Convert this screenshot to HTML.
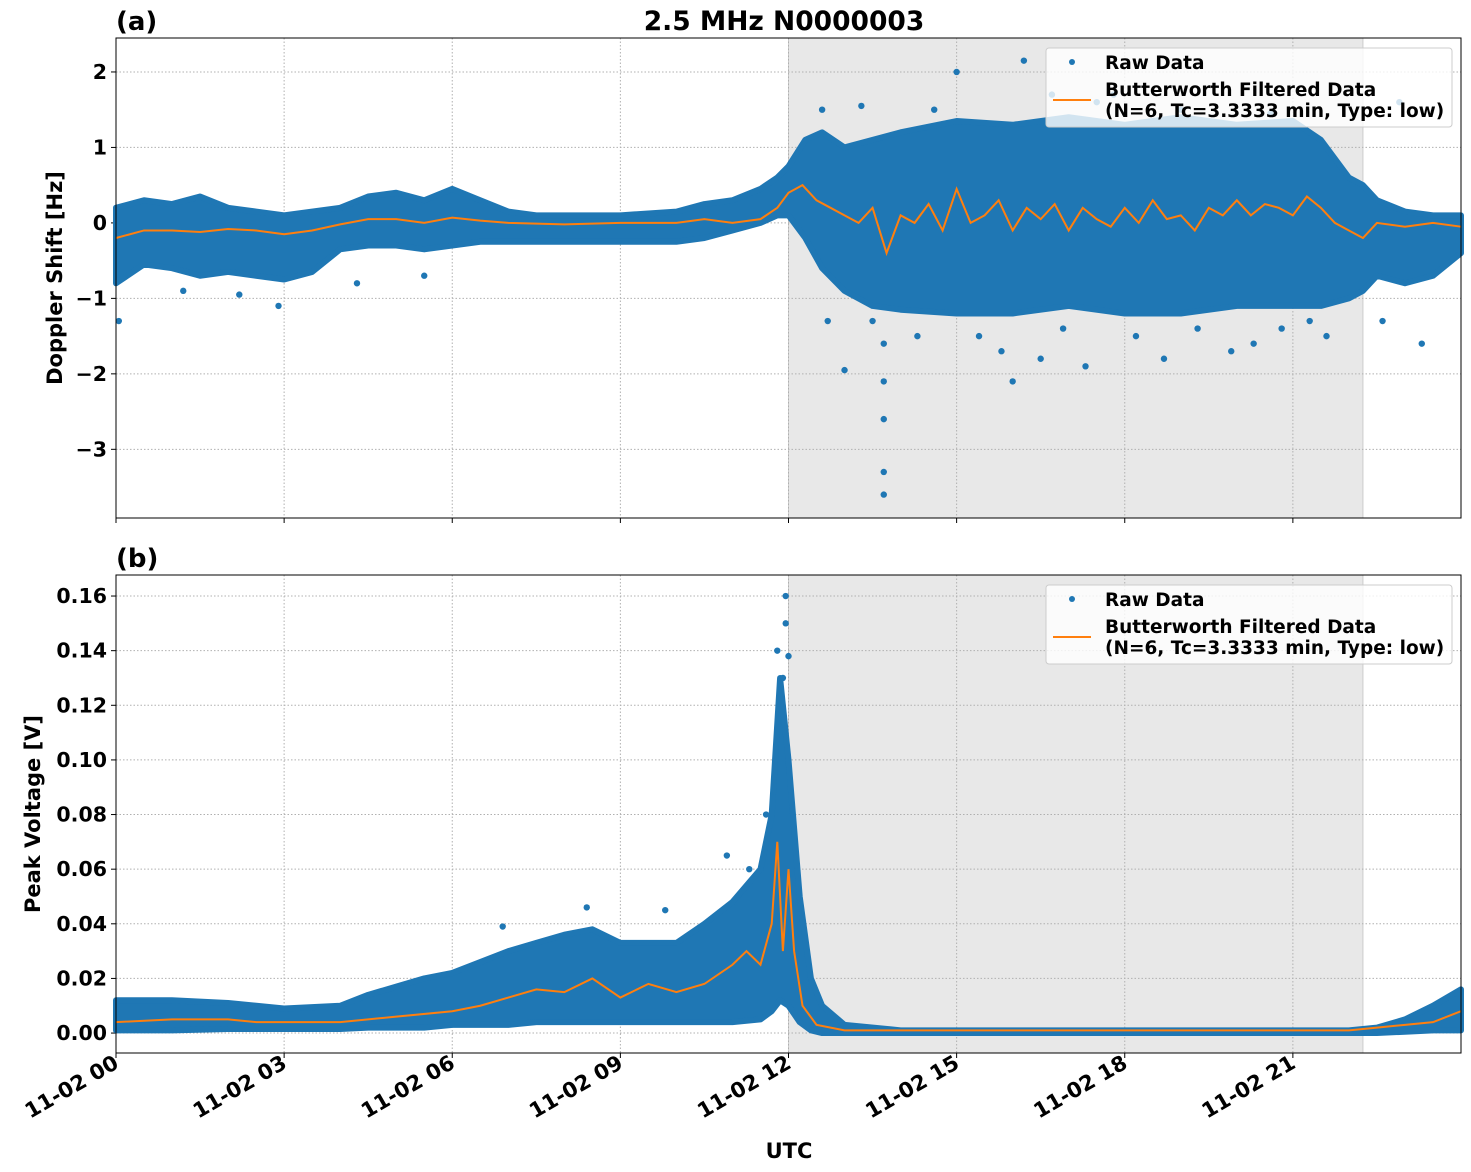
<!DOCTYPE html>
<html><head><meta charset="utf-8"><style>
body{margin:0;background:#fff}
svg{display:block;font-family:"DejaVu Sans","Liberation Sans",sans-serif;font-weight:bold}
</style></head><body>
<svg id="c" width="1471" height="1172" viewBox="0 0 1471 1172" xmlns="http://www.w3.org/2000/svg">
<text x="784" y="30" font-size="26.5" text-anchor="middle">2.5 MHz N0000003</text>
<text x="116" y="30" font-size="26">(a)</text>
<text x="116" y="567" font-size="26">(b)</text>
<text transform="translate(62,278) rotate(-90)" font-size="21" text-anchor="middle">Doppler Shift [Hz]</text>
<text transform="translate(40,814) rotate(-90)" font-size="21" text-anchor="middle">Peak Voltage [V]</text>
<text x="789" y="1158" font-size="21" text-anchor="middle">UTC</text>
<g id="g"></g>
</svg>
<script>
// ---- data ----
const xTicks=[0,3,6,9,12,15,18,21];
const xTickLabels=["11-02 00","11-02 03","11-02 06","11-02 09","11-02 12","11-02 15","11-02 18","11-02 21"];
const shadeStart=12, shadeEnd=22.25;
const dopTicks=[2,1,0,-1,-2,-3];
const dopTickLabels=["2","1","0","\u22121","\u22122","\u22123"];
const volTicks=[0,0.02,0.04,0.06,0.08,0.1,0.12,0.14,0.16];
const volTickLabels=["0.00","0.02","0.04","0.06","0.08","0.10","0.12","0.14","0.16"];
// doppler raw envelope
const dopT=[0,0.5,1,1.5,2,2.5,3,3.5,4,4.5,5,5.5,6,6.5,7,7.5,8,9,10,10.5,11,11.5,11.8,12,12.3,12.6,13,13.5,14,15,16,17,18,19,20,21,21.5,22,22.25,22.5,23,23.5,24];
const dopUpper=[0.2,0.3,0.25,0.35,0.2,0.15,0.1,0.15,0.2,0.35,0.4,0.3,0.45,0.3,0.15,0.1,0.1,0.1,0.15,0.25,0.3,0.45,0.6,0.75,1.1,1.2,1.0,1.1,1.2,1.35,1.3,1.4,1.3,1.4,1.3,1.35,1.1,0.6,0.5,0.3,0.15,0.1,0.1];
const dopLower=[-0.8,-0.55,-0.6,-0.7,-0.65,-0.7,-0.75,-0.65,-0.35,-0.3,-0.3,-0.35,-0.3,-0.25,-0.25,-0.25,-0.25,-0.25,-0.25,-0.2,-0.1,0,0.1,0.1,-0.2,-0.6,-0.9,-1.1,-1.15,-1.2,-1.2,-1.1,-1.2,-1.2,-1.1,-1.1,-1.1,-1.0,-0.9,-0.7,-0.8,-0.7,-0.4];
const dopFiltT=[0,0.5,1,1.5,2,2.5,3,3.5,4,4.5,5,5.5,6,6.5,7,8,9,10,10.5,11,11.5,11.8,12,12.25,12.5,12.75,13,13.25,13.5,13.75,14,14.25,14.5,14.75,15,15.25,15.5,15.75,16,16.25,16.5,16.75,17,17.25,17.5,17.75,18,18.25,18.5,18.75,19,19.25,19.5,19.75,20,20.25,20.5,20.75,21,21.25,21.5,21.75,22,22.25,22.5,23,23.5,24];
const dopFilt=[-0.2,-0.1,-0.1,-0.12,-0.08,-0.1,-0.15,-0.1,-0.02,0.05,0.05,0,0.07,0.03,0,-0.02,0,0,0.05,0,0.05,0.2,0.4,0.5,0.3,0.2,0.1,0,0.2,-0.4,0.1,0,0.25,-0.1,0.45,0,0.1,0.3,-0.1,0.2,0.05,0.25,-0.1,0.2,0.05,-0.05,0.2,0,0.3,0.05,0.1,-0.1,0.2,0.1,0.3,0.1,0.25,0.2,0.1,0.35,0.2,0,-0.1,-0.2,0,-0.05,0,-0.05];
const dopOutT=[0.05,1.2,2.2,2.9,4.3,5.5,12.6,13.0,13.3,13.5,13.7,13.7,13.7,13.7,13.7,14.3,15.0,15.4,15.8,16.0,16.2,16.5,16.9,17.3,17.8,18.2,18.7,19.3,19.9,20.3,20.8,21.3,21.6,22.6,22.9,23.3,12.7,14.6,16.7,17.5,19.0,20.6];
const dopOutV=[-1.3,-0.9,-0.95,-1.1,-0.8,-0.7,1.5,-1.95,1.55,-1.3,-3.6,-3.3,-2.6,-2.1,-1.6,-1.5,2.0,-1.5,-1.7,-2.1,2.15,-1.8,-1.4,-1.9,1.7,-1.5,-1.8,-1.4,-1.7,-1.6,-1.4,-1.3,-1.5,-1.3,1.6,-1.6,-1.3,1.5,1.7,1.6,1.5,1.45];
// voltage raw envelope
const volT=[0,1,2,3,4,4.5,5,5.5,6,6.5,7,7.5,8,8.5,9,9.5,10,10.5,11,11.5,11.7,11.85,12,12.2,12.4,12.6,13,14,22,22.5,23,23.5,24];
const volUpper=[0.012,0.012,0.011,0.009,0.01,0.014,0.017,0.02,0.022,0.026,0.03,0.033,0.036,0.038,0.033,0.033,0.033,0.04,0.048,0.06,0.08,0.13,0.1,0.05,0.02,0.01,0.003,0.001,0.001,0.002,0.005,0.01,0.016];
const volLower=[0.001,0.001,0.0015,0.0015,0.0015,0.002,0.002,0.002,0.003,0.003,0.003,0.004,0.004,0.004,0.004,0.004,0.004,0.004,0.004,0.005,0.008,0.012,0.01,0.004,0.001,0,0,0,0,0,0.0005,0.001,0.001];
const volFiltT=[0,1,2,2.5,3,4,5,6,6.5,7,7.5,8,8.5,9,9.5,10,10.5,11,11.25,11.5,11.7,11.8,11.9,12,12.1,12.25,12.5,13,22,22.5,23,23.5,24];
const volFilt=[0.004,0.005,0.005,0.004,0.004,0.004,0.006,0.008,0.01,0.013,0.016,0.015,0.02,0.013,0.018,0.015,0.018,0.025,0.03,0.025,0.04,0.07,0.03,0.06,0.03,0.01,0.003,0.001,0.001,0.002,0.003,0.004,0.008];
const volOutT=[6.9,8.4,9.8,10.9,11.3,11.6,11.95,11.95,12.0,11.8,11.9];
const volOutV=[0.039,0.046,0.045,0.065,0.06,0.08,0.16,0.15,0.138,0.14,0.13];

// ---- axes ----
const L=116,R=1461;
const X=t=>L+(R-L)*t/24;
const pTop={y0:38,y1:518,ymin:-3.91,ymax:2.45};
const pBot={y0:575,y1:1053,ymin:-0.0073,ymax:0.1677};
const Y=(p,v)=>p.y1-(p.y1-p.y0)*(v-p.ymin)/(p.ymax-p.ymin);
const NS="http://www.w3.org/2000/svg";
const gRoot=document.getElementById('g');
function mk(tag,attrs,parent){const e=document.createElementNS(NS,tag);for(const k in attrs)e.setAttribute(k,attrs[k]);(parent||gRoot).appendChild(e);return e;}

function panel(p,ticks,labels,T,U,Lo,FT,F,OT,OV,name,showX){
  const pg=mk('g',{});
  
  
  const sh=mk('rect',{x:X(shadeStart),y:p.y0,width:X(shadeEnd)-X(shadeStart),height:p.y1-p.y0,fill:'#e8e8e8',stroke:'#ccc'},pg);
  
  
  xTicks.forEach(t=>{mk('line',{x1:X(t),x2:X(t),y1:p.y0,y2:p.y1,stroke:'#b0b0b0','stroke-dasharray':'1.5,2','stroke-width':1},pg);});
  ticks.forEach((v,i)=>{
    const y=Y(p,v);
    mk('line',{x1:L,x2:R,y1:y,y2:y,stroke:'#b0b0b0','stroke-dasharray':'1.5,2','stroke-width':1},pg);
    mk('line',{x1:L-5,x2:L,y1:y,y2:y,stroke:'#000'},pg);
    const tx=mk('text',{x:L-9,y:y+7,'font-size':20.5,'text-anchor':'end'},pg);
    tx.textContent=labels[i];
    
    
  });
  let d='';
  T.forEach((t,i)=>{d+=(i?'L':'M')+X(t)+','+Y(p,U[i]);});
  for(let i=T.length-1;i>=0;i--)d+='L'+X(T[i])+','+Y(p,Lo[i]);
  const band=mk('path',{d:d+'Z',fill:'#1f77b4',stroke:'#1f77b4','stroke-width':6,'stroke-linejoin':'round'},pg);
  
  
  OT.forEach((t,i)=>{
    const c=mk('circle',{cx:X(t),cy:Y(p,OV[i]),r:3.2,fill:'#1f77b4'},pg);
    
    
  });
  let fd='';
  FT.forEach((t,i)=>{fd+=(i?'L':'M')+X(t)+','+Y(p,F[i]);});
  const fl=mk('path',{d:fd,fill:'none',stroke:'#ff7f0e','stroke-width':2},pg);
  
  
  xTicks.forEach((t,i)=>{
    mk('line',{x1:X(t),x2:X(t),y1:p.y1,y2:p.y1+5,stroke:'#000'},pg);
    if(showX){
      const tx=mk('text',{transform:`translate(${X(t)+4},${p.y1+14}) rotate(-30)`,'font-size':21,'text-anchor':'end'},pg);
      tx.textContent=xTickLabels[i];
      
      
    }
  });
  mk('rect',{x:L,y:p.y0,width:R-L,height:p.y1-p.y0,fill:'none',stroke:'#000','stroke-width':1},pg);
  const lg=mk('g',{},pg);
  
  
  const ly=p.y0+10;
  mk('rect',{x:1046,y:ly,width:406,height:79,rx:3,fill:'#fff','fill-opacity':0.8,stroke:'#ccc'},lg);
  mk('circle',{cx:1072,cy:ly+14,r:3,fill:'#1f77b4'},lg);
  const t1=mk('text',{x:1105,y:ly+21,'font-size':18.5},lg);t1.textContent='Raw Data';
  mk('line',{x1:1053,x2:1091,y1:ly+52,y2:ly+52,stroke:'#ff7f0e','stroke-width':2},lg);
  const t2=mk('text',{x:1105,y:ly+48,'font-size':18.5},lg);t2.textContent='Butterworth Filtered Data';
  const t3=mk('text',{x:1105,y:ly+69,'font-size':18.5},lg);t3.textContent='(N=6, Tc=3.3333 min, Type: low)';
}
panel(pTop,dopTicks,dopTickLabels,dopT,dopUpper,dopLower,dopFiltT,dopFilt,dopOutT,dopOutV,'doppler',false);
panel(pBot,volTicks,volTickLabels,volT,volUpper,volLower,volFiltT,volFilt,volOutT,volOutV,'voltage',true);
</script>
</body></html>
